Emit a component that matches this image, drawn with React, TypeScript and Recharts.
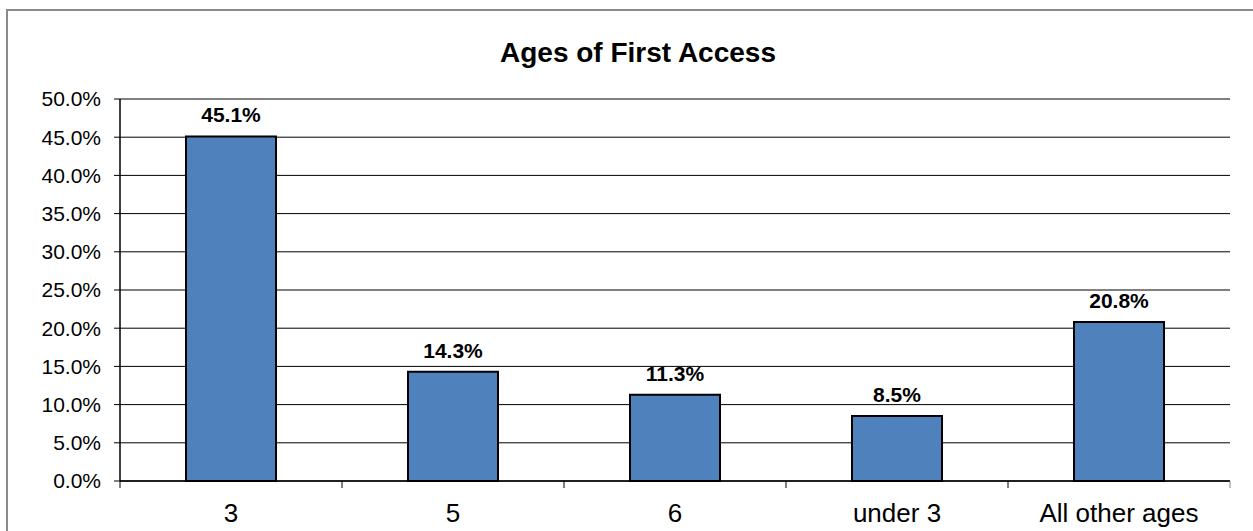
import { Bar, BarChart, CartesianGrid, LabelList, ReferenceLine, XAxis, YAxis } from "recharts";

const ages = ["3", "5", "6", "under 3", "All other ages"];
const shares = [45.1, 14.3, 11.3, 8.5, 20.8];
const yTicks = [0, 5, 10, 15, 20, 25, 30, 35, 40, 45, 50];

const data = ages.map((age, i) => ({ age, share: shares[i] }));

const FONT = "Arial, 'Liberation Sans', sans-serif";

function AgeTick(props: any) {
  const { x, y, payload, index } = props;
  const band = 222;
  const half = band / 2;
  return (
    <g>
      <line x1={x - half} x2={x - half} y1={y} y2={y + 7} stroke="#000" />
      {index === ages.length - 1 && (
        <line x1={x + half} x2={x + half} y1={y} y2={y + 7} stroke="#808080" />
      )}
      <text
        x={x}
        y={y + 41}
        textAnchor="middle"
        fontSize={26}
        fontFamily={FONT}
        fill="#000"
      >
        {payload.value}
      </text>
    </g>
  );
}

export default function App() {
  return (
    <div style={{ position: "absolute", left: 0, top: 0, width: 1253, height: 531, overflow: "hidden", background: "#fff" }}>
      <div
        style={{
          position: "absolute",
          left: 6,
          top: 9,
          width: 1300,
          height: 600,
          borderLeft: "2px solid #8a8a8a",
          borderTop: "2px solid #8a8a8a",
        }}
      />
      <svg width={1253} height={80} style={{ position: "absolute", left: 0, top: 0 }}>
        <text x={638} y={62} textAnchor="middle" fontSize={28} fontWeight="bold" fontFamily={FONT} fill="#000">
          Ages of First Access
        </text>
      </svg>
      <div style={{ position: "absolute", left: 0, top: 0 }}>
        <BarChart
          width={1253}
          height={531}
          data={data}
          margin={{ top: 99, right: 23, bottom: 0, left: 0 }}
          barSize={90}
        >
          <CartesianGrid vertical={false} stroke="#000" />
          <XAxis
            dataKey="age"
            tickLine={false}
            tickSize={0}
            tickMargin={0}
            axisLine={{ stroke: "#000", strokeWidth: 1.5 }}
            tick={<AgeTick />}
            interval={0}
            height={50}
          />
          <YAxis
            domain={[0, 50]}
            ticks={yTicks}
            width={120}
            tickSize={6}
            tickMargin={13}
            tickLine={{ stroke: "#000" }}
            axisLine={{ stroke: "#000", strokeWidth: 1.5 }}
            tick={{ fontSize: 21, fill: "#000", fontFamily: FONT }}
            tickFormatter={(v: number) => `${v.toFixed(1)}%`}
            interval={0}
          />
          <YAxis
            yAxisId="frame"
            orientation="right"
            domain={[0, 50]}
            width={0}
            tick={false}
            tickLine={false}
            axisLine={{ stroke: "#808080", strokeWidth: 2 }}
          />
          <ReferenceLine y={50} stroke="#808080" strokeWidth={2} />
          <Bar dataKey="share" fill="#4F81BD" stroke="#000" strokeWidth={2} isAnimationActive={false}>
            <LabelList
              dataKey="share"
              position="top"
              offset={14}
              formatter={(v: any) => `${Number(v).toFixed(1)}%`}
              style={{ fontSize: 21, fontWeight: "bold", fill: "#000", fontFamily: FONT }}
            />
          </Bar>
        </BarChart>
      </div>
    </div>
  );
}
